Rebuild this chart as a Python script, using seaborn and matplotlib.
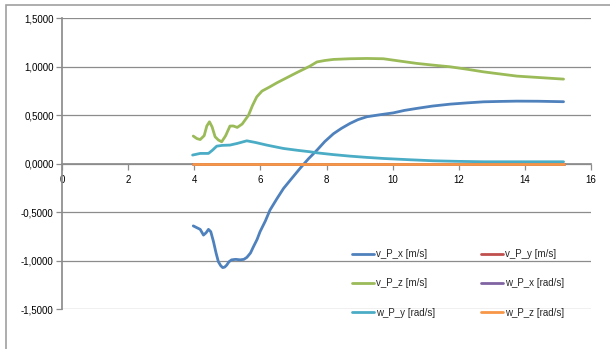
import matplotlib
matplotlib.use("Agg")
import matplotlib.pyplot as plt
import matplotlib.ticker as mticker
from matplotlib.patches import Rectangle
import numpy as np
import pandas as pd
import seaborn as sns

# ─────────────────────────────────────────
# data
# ─────────────────────────────────────────
t_vx = [3.97, 4.18, 4.28, 4.36, 4.43, 4.50, 4.58, 4.66, 4.73, 4.80, 4.86, 4.92, 4.98,
        5.05, 5.13, 5.25, 5.39, 5.50, 5.59, 5.70, 5.79, 5.90, 5.99, 6.15, 6.29, 6.50,
        6.70, 6.95, 7.20, 7.45, 7.71, 7.95, 8.21, 8.45, 8.71, 8.95, 9.22, 9.60, 10.02,
        10.35, 10.73, 11.20, 11.74, 12.25, 12.75, 13.25, 13.76, 14.40, 15.17]
v_P_x = [-0.64, -0.676, -0.735, -0.71, -0.676, -0.70, -0.80, -0.92, -1.01, -1.05, -1.07,
         -1.065, -1.045, -1.01, -0.99, -0.985, -0.99, -0.985, -0.965, -0.92, -0.855,
         -0.78, -0.70, -0.59, -0.477, -0.36, -0.254, -0.15, -0.047, 0.05, 0.14, 0.23,
         0.31, 0.365, 0.416, 0.455, 0.485, 0.505, 0.525, 0.55, 0.571, 0.595, 0.615,
         0.628, 0.639, 0.643, 0.646, 0.645, 0.64]

t_vz = [3.97, 4.08, 4.18, 4.30, 4.38, 4.46, 4.54, 4.63, 4.73, 4.83, 4.95, 5.08, 5.18,
        5.30, 5.45, 5.64, 5.76, 5.89, 6.05, 6.29, 6.50, 6.70, 7.10, 7.50, 7.71, 7.95,
        8.21, 8.70, 9.22, 9.72, 10.20, 10.73, 11.20, 11.74, 12.25, 12.75, 13.25, 13.76,
        14.40, 15.17]
v_P_z = [0.286, 0.26, 0.25, 0.29, 0.39, 0.433, 0.38, 0.279, 0.245, 0.227, 0.29, 0.389,
         0.39, 0.375, 0.41, 0.50, 0.60, 0.69, 0.75, 0.794, 0.835, 0.87, 0.94, 1.007, 1.05,
         1.065, 1.076, 1.083, 1.086, 1.083, 1.06, 1.035, 1.018, 1.0, 0.975, 0.948, 0.926,
         0.904, 0.89, 0.873]

t_wy = [3.95, 4.18, 4.43, 4.55, 4.68, 4.85, 5.08, 5.30, 5.59, 5.85, 6.19, 6.45, 6.70,
        7.10, 7.50, 7.71, 8.20, 8.71, 9.22, 9.72, 10.50, 11.24, 12.00, 12.75, 13.76,
        15.17]
w_P_y = [0.09, 0.107, 0.107, 0.14, 0.182, 0.19, 0.193, 0.21, 0.237, 0.22, 0.193, 0.175,
         0.158, 0.14, 0.124, 0.113, 0.095, 0.079, 0.066, 0.055, 0.042, 0.031, 0.025,
         0.021, 0.021, 0.021]

t_flat = [3.95, 6.0, 8.0, 10.0, 12.0, 15.17]
v_P_y = [0.0, 0.0, 0.0, 0.0, 0.0, 0.0]
w_P_x = [0.0, 0.0, 0.0, 0.0, 0.0, 0.0]
w_P_z = [0.0, 0.0, 0.0, 0.0, 0.0, 0.0]

labels = ["v_P_x [m/s]", "v_P_y [m/s]", "v_P_z [m/s]",
          "w_P_x [rad/s]", "w_P_y [rad/s]", "w_P_z [rad/s]"]
colors = ["#4F81BD", "#C0504D", "#9BBB59", "#8064A2", "#4BACC6", "#F79646"]

y_ticks = [-1.5, -1.0, -0.5, 0.0, 0.5, 1.0, 1.5]
x_ticks = [0, 2, 4, 6, 8, 10, 12, 14, 16]


def build_df() -> pd.DataFrame:
    parts = [
        (labels[0], t_vx, v_P_x),
        (labels[1], t_flat, v_P_y),
        (labels[2], t_vz, v_P_z),
        (labels[3], t_flat, w_P_x),
        (labels[4], t_wy, w_P_y),
        (labels[5], t_flat, w_P_z),
    ]
    frames = [pd.DataFrame({"t": t, "v": v, "series": name}) for name, t, v in parts]
    return pd.concat(frames, ignore_index=True)


# ─────────────────────────────────────────
# plot
# ─────────────────────────────────────────
sns.set_theme(style="white")
plt.rcParams["font.family"] = ["Liberation Sans", "DejaVu Sans"]

fig = plt.figure(figsize=(6.10, 3.49), dpi=100)
ax = fig.add_axes([62 / 610, 1 - 309.3 / 349, 529 / 610, 291 / 349])

df = build_df()
sns.lineplot(data=df, x="t", y="v", hue="series", hue_order=labels,
             palette=colors, sort=False, estimator=None, linewidth=2.0, ax=ax)
# series drawn over the zero axis line, like Excel does
for line in ax.get_lines():
    line.set_zorder(3)

ax.set_xlim(0, 16)
ax.set_ylim(-1.5, 1.5)
ax.set_xticks(x_ticks)
ax.set_yticks(y_ticks)
ax.yaxis.set_major_formatter(mticker.FuncFormatter(lambda v, _: f"{v:.4f}".replace(".", ",")))
ax.set_xlabel("")
ax.set_ylabel("")

ax.grid(axis="y", color="#8C8C8C", linewidth=0.9)
ax.grid(axis="x", visible=False)
for side in ["top", "right"]:
    ax.spines[side].set_visible(False)
ax.spines["bottom"].set_position(("data", 0))
ax.spines["bottom"].set_color("#8C8C8C")
ax.spines["left"].set_color("#8C8C8C")
ax.set_axisbelow(True)
ax.tick_params(axis="both", which="major", labelsize=7, colors="#8C8C8C",
               labelcolor="black", direction="out", length=4, width=0.9, pad=2)
ax.tick_params(axis="x", pad=4, bottom=True)
ax.tick_params(axis="y", left=True)

# legend: Excel order reads row-wise in two columns
handles, names = ax.get_legend_handles_labels()
order = [0, 2, 4, 1, 3, 5]
ax.legend([handles[i] for i in order], [names[i] for i in order],
          ncol=2, frameon=False, fontsize=7, loc="upper left",
          bbox_to_anchor=(352 / 610, 1 - 249 / 349), bbox_transform=fig.transFigure,
          handlelength=2.3, handletextpad=0.2, labelspacing=2.0, columnspacing=4.7,
          borderaxespad=0, borderpad=0)

# chart frame
fig.patches.append(Rectangle((6 / 610, -0.1), 1.2, 1 - 5 / 349 + 0.1,
                             transform=fig.transFigure, fill=False,
                             edgecolor="#A0A0A0", linewidth=1.2))

fig.savefig("out.png", dpi=100)
